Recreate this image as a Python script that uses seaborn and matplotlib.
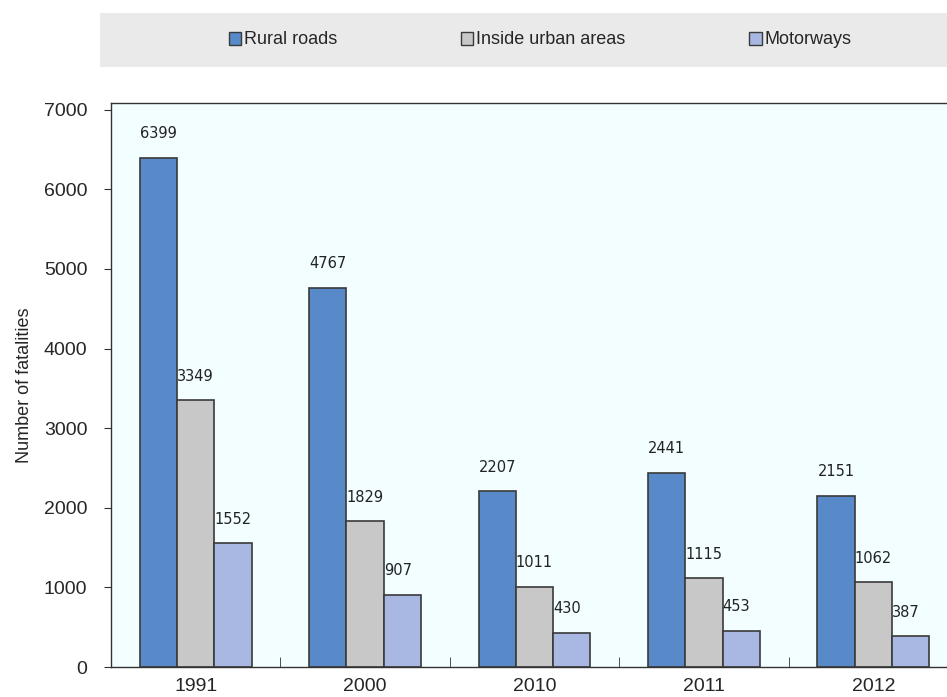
import matplotlib
matplotlib.use("Agg")
import matplotlib.pyplot as plt
import matplotlib.patches as mpatches
import seaborn as sns
import pandas as pd
from matplotlib.ticker import FixedLocator

years = ["1991", "2000", "2010", "2011", "2012"]
series = ["Rural roads", "Inside urban areas", "Motorways"]
rural = [6399, 4767, 2207, 2441, 2151]
urban = [3349, 1829, 1011, 1115, 1062]
motorways = [1552, 907, 430, 453, 387]
colors = ["#5889C8", "#C8C8C8", "#A8B8E2"]

rows = []
for name, vals in zip(series, [rural, urban, motorways]):
    for y, v in zip(years, vals):
        rows.append({"year": y, "series": name, "value": v})
df = pd.DataFrame(rows)

sns.set_style("ticks")
plt.rcParams["font.family"] = ["Liberation Sans Narrow", "Liberation Sans", "DejaVu Sans"]

fig = plt.figure(figsize=(9.47, 6.97), dpi=100)
ax = fig.add_axes([111/947, 1-667/697, (958-111)/947, (667-103)/697])
ax.set_facecolor("#F2FEFF")

sns.barplot(data=df, x="year", y="value", hue="series", order=years,
            hue_order=series, palette=colors, saturation=1, width=0.66, gap=0,
            edgecolor="#3A3A3A", linewidth=1.2, ax=ax, legend=False)

ax.set_xlim(-0.5, 4.5)
ax.set_ylim(0, 7085)
ax.set_yticks(range(0, 7001, 1000))
ax.set_xlabel("")
ax.set_ylabel("Number of fatalities", fontsize=13, labelpad=8)
ax.tick_params(axis="y", labelsize=14, length=5, direction="out", color="#333333", pad=12)
ax.tick_params(axis="x", which="major", labelsize=14, length=0, pad=8)
ax.xaxis.set_minor_locator(FixedLocator([0.5, 1.5, 2.5, 3.5]))
ax.tick_params(axis="x", which="minor", length=7, direction="in", color="#333333")
for s in ax.spines.values():
    s.set_visible(True)
    s.set_color("#333333")
    s.set_linewidth(1.0)

for cont in ax.containers:
    for bar in cont:
        h = bar.get_height()
        ax.annotate(f"{int(round(h))}", (bar.get_x(), h), xytext=(0, 12),
                    textcoords="offset points", ha="left", va="bottom",
                    fontsize=10.5, family="DejaVu Sans", color="#222222")

# legend band
fig.patches.append(mpatches.Rectangle((100/947, 1-67/697), (947-100)/947, 54/697,
                                      transform=fig.transFigure, facecolor="#EAEAEA",
                                      edgecolor="none", zorder=0))
handles = [mpatches.Patch(facecolor=c, edgecolor="#3A3A3A", linewidth=1.0) for c in colors]
leg = fig.legend(handles, series, loc="center", bbox_to_anchor=(540/947, 1-40/697),
                 ncol=3, frameon=False, fontsize=13, handlelength=0.7, handleheight=0.7,
                 handletextpad=0.15, columnspacing=6.85)

fig.savefig("out.png", dpi=100)
